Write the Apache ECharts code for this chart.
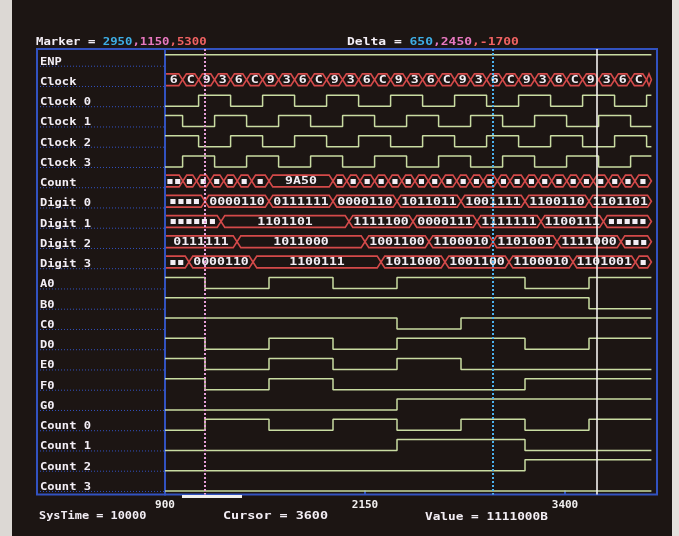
<!DOCTYPE html>
<html>
<head>
<meta charset="utf-8">
<script src="https://cdn.jsdelivr.net/npm/echarts@6.0.0/dist/echarts.min.js"></script>
<style>
html,body{margin:0;padding:0;background:#1c1513;}
#chart{width:679px;height:536px;}
</style>
</head>
<body>
<div id="chart"></div>
<script>
// ---------------- data ----------------
const signalNames = ['ENP','Clock','Clock 0','Clock 1','Clock 2','Clock 3','Count',
  'Digit 0','Digit 1','Digit 2','Digit 3','A0','B0','C0','D0','E0','F0','G0',
  'Count 0','Count 1','Count 2','Count 3'];
const xTicks = [900, 2150, 3400];
const timeStart = 900;
const timeEnd = 3940;
const axisMax = 3975;

const markerTimes = [2950, 1150, 5300];
const deltaValues = [650, 2450, -1700];
const cursorTime = 3600;
const sysTime = 10000;
const cursorValue = '1111000B';

// binary signals: initial level + transition times
const enpInit = 1;    const enpEdges = [];
const clock0Init = 0; const clock0Edges = [1110,1310,1510,1710,1910,2110,2310,2510,2710,2910,3110,3310,3510,3710,3910];
const clock1Init = 1; const clock1Edges = [1010,1210,1410,1610,1810,2010,2210,2410,2610,2810,3010,3210,3410,3610,3810];
const clock2Init = 1; const clock2Edges = [1110,1310,1510,1710,1910,2110,2310,2510,2710,2910,3110,3310,3510,3710,3910];
const clock3Init = 0; const clock3Edges = [1010,1210,1410,1610,1810,2010,2210,2410,2610,2810,3010,3210,3410,3610,3810];
const a0Init = 1; const a0Edges = [1150,1550,1950,2350,3150,3550];
const b0Init = 1; const b0Edges = [3550];
const c0Init = 1; const c0Edges = [2350,2750];
const d0Init = 1; const d0Edges = [1150,1550,1950,2350,3150,3550];
const e0Init = 1; const e0Edges = [1150,1550,1950,2350,2750];
const f0Init = 1; const f0Edges = [1150,1550,1950,3150];
const g0Init = 0; const g0Edges = [2350];
const count0Init = 0; const count0Edges = [1150,1550,1950,2350,2750,3150,3550];
const count1Init = 0; const count1Edges = [2350,3150];
const count2Init = 0; const count2Edges = [3150];
const count3Init = 0; const count3Edges = [];

// bus signals: segment boundaries + labels
const clockBusBounds = [900,1010,1110,1210,1310,1410,1510,1610,1710,1810,1910,2010,2110,2210,2310,2410,2510,2610,2710,2810,2910,3010,3110,3210,3310,3410,3510,3610,3710,3810,3910,3940];
const clockBusLabels = ['6','C','9','3','6','C','9','3','6','C','9','3','6','C','9','3','6','C','9','3','6','C','9','3','6','C','9','3','6','C',''];
const countBusBounds = [900,1012,1097,1182,1267,1352,1442,1550,1950,2036,2119,2210,2296,2380,2462,2546,2629,2723,2806,2889,2977,3056,3150,3233,3317,3411,3494,3577,3671,3754,3837,3940];
const countBusLabels = ['▪▪','▪','▪','▪','▪','▪','▪','9A50','▪','▪','▪','▪','▪','▪','▪','▪','▪','▪','▪','▪','▪','▪','▪','▪','▪','▪','▪','▪','▪','▪','▪'];
const digit0Bounds = [900,1150,1550,1950,2350,2750,3150,3550,3940];
const digit0Labels = ['▪▪▪▪','0000110','0111111','0000110','1011011','1001111','1100110','1101101'];
const digit1Bounds = [900,1250,2050,2450,2850,3250,3640,3940];
const digit1Labels = ['▪▪▪▪▪▪','1101101','1111100','0000111','1111111','1100111','▪▪▪▪▪'];
const digit2Bounds = [900,1350,2150,2550,2950,3350,3750,3940];
const digit2Labels = ['0111111','1011000','1001100','1100010','1101001','1111000','▪▪▪'];
const digit3Bounds = [900,1050,1450,2250,2650,3050,3450,3840,3940];
const digit3Labels = ['▪▪','0000110','1100111','1011000','1001100','1100010','1101001','▪'];

// ---------------- styling ----------------
const BG = '#1c1513';
const BLUE = '#3252c0';
const WAVE = '#c9dca2';
const BUS = '#d44a4a';
const TXT = '#f3eef5';
const MONO = '"DejaVu Sans Mono", "Liberation Mono", monospace';
const HI = 0.28, LO = 0.83, BUS_C = 0.52, BUS_H = 0.29;
const GRID_TOP = 49, ROW_H = 20.25, NROWS = signalNames.length;

const binaryRows = [
  [0, enpInit, enpEdges], [2, clock0Init, clock0Edges], [3, clock1Init, clock1Edges],
  [4, clock2Init, clock2Edges], [5, clock3Init, clock3Edges],
  [11, a0Init, a0Edges], [12, b0Init, b0Edges], [13, c0Init, c0Edges], [14, d0Init, d0Edges],
  [15, e0Init, e0Edges], [16, f0Init, f0Edges], [17, g0Init, g0Edges],
  [18, count0Init, count0Edges], [19, count1Init, count1Edges], [20, count2Init, count2Edges], [21, count3Init, count3Edges]
];
const busRows = [
  [1, clockBusBounds, clockBusLabels], [6, countBusBounds, countBusLabels],
  [7, digit0Bounds, digit0Labels], [8, digit1Bounds, digit1Labels],
  [9, digit2Bounds, digit2Labels], [10, digit3Bounds, digit3Labels]
];

function wavePoints(row, init, edges) {
  const yv = l => row + (l ? HI : LO);
  let l = init;
  const pts = [[timeStart, yv(l)]];
  edges.forEach(t => { pts.push([t, yv(l)]); l = 1 - l; pts.push([t, yv(l)]); });
  pts.push([timeEnd, yv(l)]);
  return pts;
}

function busRender(row, labels) {
  return function (params, api) {
    const s = api.value(0), e = api.value(1);
    const x0 = api.coord([s, row])[0], x1 = api.coord([e, row])[0];
    const yc = api.coord([s, row + BUS_C])[1];
    const top = api.coord([s, row + BUS_C - BUS_H])[1];
    const bot = api.coord([s, row + BUS_C + BUS_H])[1];
    const d = Math.min(3.8, (x1 - x0) / 2);
    let pts;
    if (s <= timeStart) {
      pts = [[x0 + 1, top], [x1 - d, top], [x1, yc], [x1 - d, bot], [x0 + 1, bot]];
    } else {
      pts = [[x0, yc], [x0 + d, top], [x1 - d, top], [x1, yc], [x1 - d, bot], [x0 + d, bot], [x0, yc]];
    }
    const children = [{
      type: 'polyline', shape: { points: pts },
      style: { stroke: BUS, lineWidth: 1.6, fill: null }
    }];
    const lab = labels[params.dataIndex];
    if (lab && (x1 - x0) >= 9) {
      const isSq = lab.indexOf('▪') >= 0;
      children.push({
        type: 'text', x: (x0 + x1) / 2, y: yc + 0.5, scaleX: isSq ? 1.0 : 1.2,
        style: { text: lab, fill: TXT, font: (isSq ? 'bold 13px ' : 'bold 11px ') + MONO, align: 'center', verticalAlign: 'middle' }
      });
    }
    return { type: 'group', children };
  };
}

const series = [];
// names panel
series.push({
  type: 'custom', xAxisIndex: 0, yAxisIndex: 0, silent: true, animation: false,
  data: signalNames.map((n, i) => [0, i]),
  renderItem(params, api) {
    const i = api.value(1);
    const xl = api.coord([0, i])[0], xr = api.coord([1, i])[0];
    const yText = api.coord([0, i + 0.63])[1];
    const yLine = api.coord([0, i + 0.85])[1];
    return { type: 'group', children: [
      { type: 'line', shape: { x1: xl + 3, y1: yLine, x2: xr - 1, y2: yLine },
        style: { stroke: BLUE, lineWidth: 1, lineDash: [1, 2] } },
      { type: 'text', x: xl + 3, y: yText, scaleX: 1.1,
        style: { text: signalNames[i], fill: TXT, font: 'bold 11px ' + MONO, verticalAlign: 'middle' } }
    ]};
  }
});
// binary waveforms
binaryRows.forEach(([row, init, edges], k) => {
  const s = {
    type: 'line', xAxisIndex: 1, yAxisIndex: 1, data: wavePoints(row, init, edges),
    showSymbol: false, symbol: 'none', silent: true, animation: false,
    lineStyle: { color: WAVE, width: 1.5 }
  };
  if (k === 0) {
    s.markLine = {
      silent: true, symbol: 'none', label: { show: false }, animation: false,
      data: [
        { xAxis: markerTimes[1], lineStyle: { color: '#e6a0d8', type: [2, 2], width: 2 } },
        { xAxis: markerTimes[0], lineStyle: { color: '#4cb2ee', type: [2, 2], width: 2 } },
        { xAxis: cursorTime, lineStyle: { color: '#f4f2f0', type: 'solid', width: 1.6 } }
      ]
    };
  }
  series.push(s);
});
// buses
busRows.forEach(([row, bounds, labels]) => {
  const data = [];
  for (let i = 0; i < bounds.length - 1; i++) data.push([bounds[i], bounds[i + 1]]);
  series.push({
    type: 'custom', xAxisIndex: 1, yAxisIndex: 1, silent: true, animation: false,
    encode: { x: [0, 1] }, data, renderItem: busRender(row, labels)
  });
});

const gridH = ROW_H * NROWS;
const option = {
  backgroundColor: BG,
  animation: false,
  grid: [
    { left: 37, top: GRID_TOP, width: 128, height: gridH, show: true, borderColor: BLUE, borderWidth: 2, backgroundColor: 'transparent' },
    { left: 165, top: GRID_TOP, width: 492, height: gridH, show: true, borderColor: BLUE, borderWidth: 2, backgroundColor: 'transparent' }
  ],
  xAxis: [
    { gridIndex: 0, type: 'value', min: 0, max: 1, show: false },
    { gridIndex: 1, type: 'value', min: timeStart, max: axisMax, position: 'bottom',
      axisLine: { show: false, onZero: false }, splitLine: { show: false },
      axisTick: { show: true, inside: true, length: 4, customValues: xTicks, lineStyle: { color: BLUE, width: 2 } },
      axisLabel: { customValues: xTicks, formatter: v => String(v), color: '#f2f0f0', fontFamily: MONO, fontWeight: 'bold', fontSize: 11, margin: 5 } }
  ],
  yAxis: [
    { gridIndex: 0, type: 'value', min: 0, max: NROWS, inverse: true, show: false },
    { gridIndex: 1, type: 'value', min: 0, max: NROWS, inverse: true, show: false }
  ],
  graphic: [
    { type: 'rect', left: 0, top: 0, shape: { width: 12, height: 536 }, style: { fill: '#dcd8d4' }, silent: true },
    { type: 'rect', left: 672, top: 0, shape: { width: 7, height: 536 }, style: { fill: '#e4e0dc' }, silent: true },
    { type: 'rect', x: 182, y: 495, shape: { width: 60, height: 3 }, style: { fill: '#f2f0ee' }, silent: true },
    { type: 'text', x: 36, y: 42, scaleX: 1.12, silent: true,
      style: { text: '{w|Marker = }{c|' + markerTimes[0] + '}{p|,' + markerTimes[1] + '}{r|,' + markerTimes[2] + '}',
        font: 'bold 11px ' + MONO, verticalAlign: 'middle',
        rich: { w: { fill: TXT, font: 'bold 11px ' + MONO }, c: { fill: '#3eaee6', font: 'bold 11px ' + MONO },
                p: { fill: '#e878c0', font: 'bold 11px ' + MONO }, r: { fill: '#f06262', font: 'bold 11px ' + MONO } } } },
    { type: 'text', x: 347, y: 42, scaleX: 1.18, silent: true,
      style: { text: '{w|Delta = }{c|' + deltaValues[0] + '}{p|,' + deltaValues[1] + '}{r|,' + deltaValues[2] + '}',
        font: 'bold 11px ' + MONO, verticalAlign: 'middle',
        rich: { w: { fill: TXT, font: 'bold 11px ' + MONO }, c: { fill: '#3eaee6', font: 'bold 11px ' + MONO },
                p: { fill: '#e878c0', font: 'bold 11px ' + MONO }, r: { fill: '#f06262', font: 'bold 11px ' + MONO } } } },
    { type: 'text', x: 39, y: 516, scaleX: 1.08, silent: true,
      style: { text: 'SysTime = ' + sysTime, fill: TXT, font: 'bold 11px ' + MONO, verticalAlign: 'middle' } },
    { type: 'text', x: 223, y: 516, scaleX: 1.22, silent: true,
      style: { text: 'Cursor = ' + cursorTime, fill: TXT, font: 'bold 11px ' + MONO, verticalAlign: 'middle' } },
    { type: 'text', x: 425, y: 517, scaleX: 1.16, silent: true,
      style: { text: 'Value = ' + cursorValue, fill: TXT, font: 'bold 11px ' + MONO, verticalAlign: 'middle' } }
  ],
  series
};

const chart = echarts.init(document.getElementById('chart'), null, { renderer: 'canvas', width: 679, height: 536 });
chart.setOption(option);
</script>
</body>
</html>
